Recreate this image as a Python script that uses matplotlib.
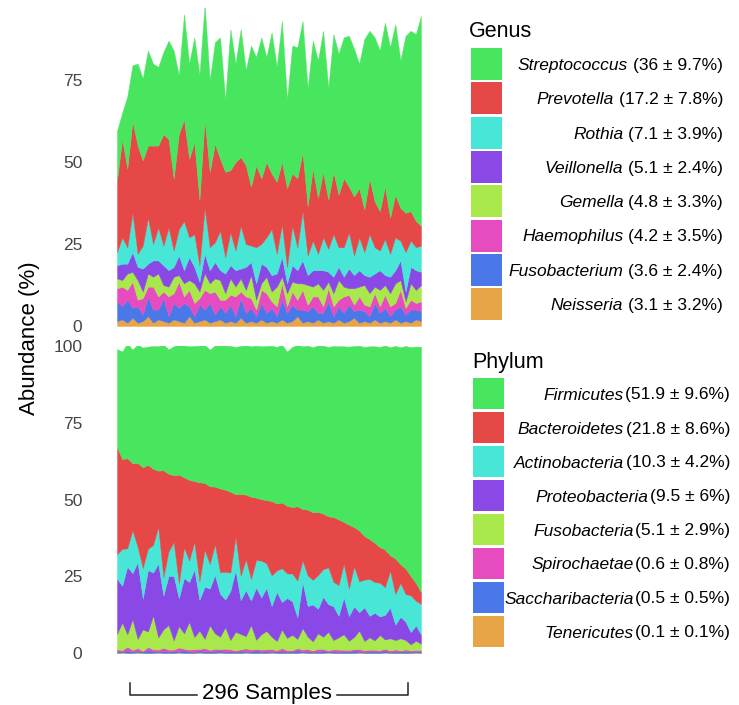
import matplotlib
matplotlib.use("Agg")
import matplotlib.pyplot as plt
from matplotlib.patches import Rectangle
from matplotlib.lines import Line2D
import numpy as np

plt.rcParams['font.family'] = ['Liberation Sans', 'DejaVu Sans']

# ---------------- Genus panel (bottom layer first) ----------------
genus_names = ["Neisseria", "Fusobacterium", "Haemophilus", "Gemella",
               "Veillonella", "Rothia", "Prevotella", "Streptococcus"]
genus_stats = ["(3.1 ± 3.2%)", "(3.6 ± 2.4%)", "(4.2 ± 3.5%)", "(4.8 ± 3.3%)",
               "(5.1 ± 2.4%)", "(7.1 ± 3.9%)", "(17.2 ± 7.8%)", "(36 ± 9.7%)"]

neisseria = [1.5,2,1,2.5,1,1.5,3,1,2,1.5, 1,2,1.5,1,3,1,1.5,2,1,1.5,
             2,1,1.5,1,2.5,1,1.5,1,2,1, 1.5,1,2,1,1.5,3,1,1.5,1,2,
             1,1.5,1,2,1,1.5,2.5,1,1.5,1, 2,1,1.5,1,2,1,1.5,1,2,1.5]
fusobacterium = [6,4,7,3,5,2,6,4,3,7, 2,5,4,6,3,2,5,3,6,2,
                 4,3,5,2,6,3,4,2,5,3, 4,2,6,3,5,2,4,3,5,2,
                 3,6,2,4,3,5,2,4,3,2, 5,3,4,2,3,5,2,4,3,3]
haemophilus = [4,6,3,8,2,5,3,7,4,2, 6,3,8,2,5,4,2,6,3,7,
               2,4,3,6,2,5,3,2,4,6, 2,3,5,2,4,3,6,2,3,5,
               2,4,3,2,5,3,2,4,2,3, 3,2,4,3,2,5,2,3,2,3]
gemella = [3,2,5,3,6,2,4,3,7,2, 3,5,2,4,3,6,2,5,3,4,
           6,2,5,3,4,2,7,3,2,5, 3,6,2,4,3,5,2,6,3,4,
           5,2,4,6,3,2,5,3,6,4, 2,5,3,4,6,3,2,5,4,5]
veillonella = [4,5,3,6,4,7,3,5,4,6, 5,3,6,4,7,5,3,6,4,5,
               3,6,4,5,3,7,4,5,6,3, 5,4,6,3,5,4,7,3,5,4,
               6,3,5,4,3,6,4,5,3,5, 4,6,3,5,4,6,3,5,6,4]
rothia = [4,8,5,12,4,7,14,5,10,6, 13,5,8,15,6,10,5,14,7,6,
          12,5,10,6,13,7,5,11,6,9, 14,6,10,5,12,7,15,6,9,5,
          10,7,13,6,9,11,6,10,7,13, 8,6,11,7,10,6,12,8,7,8]
prevotella = [22,30,24,28,33,26,22,30,25,34, 27,22,29,31,24,28,20,27,23,30,
              22,26,19,27,21,24,18,25,20,23, 17,22,19,24,16,21,18,15,22,17,
              20,15,19,16,21,14,18,15,13,17, 14,12,16,11,13,10,12,9,8,6]
streptococcus = [15,8,22,17,25,25,29,25,24,25, 30,39,18,32,29,32,38,35,28,31,
                 37,22,43,30,39,29,43,33,43,32, 43,35,43,27,39,40,40,36,39,42,
                 43,34,42,43,43,46,45,38,52,45, 50,49,50,52,52,45,54,55,57,64]

# ---------------- Phylum panel (bottom layer first) ----------------
phylum_names = ["Tenericutes", "Saccharibacteria", "Spirochaetae", "Fusobacteria",
                "Proteobacteria", "Actinobacteria", "Bacteroidetes", "Firmicutes"]
phylum_stats = ["(0.1 ± 0.1%)", "(0.5 ± 0.5%)", "(0.6 ± 0.8%)", "(5.1 ± 2.9%)",
                "(9.5 ± 6%)", "(10.3 ± 4.2%)", "(21.8 ± 8.6%)", "(51.9 ± 9.6%)"]

tenericutes = [0.1,0.2,0.1,0.1,0.2,0.1,0.1,0.1,0.2,0.1, 0.1,0.1,0.2,0.1,0.1,0.1,0.2,0.1,0.1,0.1,
               0.2,0.1,0.1,0.1,0.1,0.2,0.1,0.1,0.1,0.1, 0.2,0.1,0.1,0.1,0.1,0.1,0.2,0.1,0.1,0.1,
               0.1,0.2,0.1,0.1,0.1,0.1,0.1,0.2,0.1,0.1, 0.1,0.1,0.2,0.1,0.1,0.1,0.1,0.1,0.2,0.1]
saccharibacteria = [0.5,0.3,0.8,0.4,0.6,0.3,0.9,0.5,0.4,0.7, 0.3,0.6,0.5,0.8,0.4,0.3,0.7,0.5,0.4,0.6,
                    0.8,0.4,0.5,0.3,0.7,0.5,0.4,0.9,0.3,0.6, 0.5,0.4,0.7,0.3,0.5,0.8,0.4,0.6,0.3,0.5,
                    0.7,0.4,0.5,0.3,0.6,0.4,0.8,0.5,0.3,0.6, 0.4,0.5,0.7,0.3,0.5,0.4,0.6,0.3,0.5,0.4]
spirochaetae = [0.6,0.4,1.2,0.5,0.8,0.3,1.0,0.6,0.5,0.9, 0.7,0.4,1.1,0.5,0.6,0.8,0.4,1.0,0.5,0.7,
                0.3,0.9,0.6,0.5,0.4,0.8,0.6,0.3,0.7,0.5, 0.6,0.4,0.8,0.5,0.3,0.7,0.5,0.6,0.4,0.8,
                0.5,0.3,0.6,0.7,0.4,0.5,0.3,0.6,0.5,0.4, 0.6,0.3,0.5,0.4,0.6,0.3,0.5,0.4,0.3,0.5]
fusobacteria = [5,9,4,10,3,7,5,11,4,6, 8,3,7,5,9,4,6,3,8,5,
                4,7,3,6,5,4,8,3,5,6, 4,3,6,4,5,3,7,4,3,5,
                4,6,3,4,5,3,4,6,3,4, 3,5,3,4,3,4,3,2,3,2]
proteobacteria = [18,12,22,15,25,10,20,14,24,11, 16,21,9,18,13,22,10,17,12,19,
                  14,9,16,20,11,15,8,17,12,14, 10,16,9,13,11,7,15,10,12,8,
                  13,9,11,7,12,8,10,6,11,7, 9,6,8,10,5,7,6,4,5,3]
actinobacteria = [8,12,6,14,5,10,7,9,12,6, 8,11,5,10,7,9,6,12,8,10,
                  7,9,6,11,8,10,7,9,12,8, 10,7,11,8,9,12,7,10,8,11,
                  9,12,8,10,11,9,13,10,9,12, 10,11,9,12,10,11,9,12,8,10]
bacteroidetes = [34.8,29.3,29.3,21.8,27.3,32.8,27.3,24.8,18.3,34.8,
                 25.3,21.8,35.3,22.8,26.3,19.8,32.3,21.8,25.3,18.8,
                 27.3,26.8,26.3,13.8,26.6,21.1,26.8,20.3,20.0,20.6,
                 24.2,21.8,21.4,22.0,21.6,24.2,16.8,21.4,22.0,20.6,
                 18.1,16.6,21.1,21.4,13.6,20.8,12.8,16.6,14.2,13.0,
                 12.8,11.6,12.3,5.0,11.6,6.1,8.3,6.3,5.8,3.8]
firmicutes = [32,35,37.5,37,38.5,39,38.5,40,40.5,41,
              40.5,42,42.5,43,43.5,44,44.5,45,44.5,46,
              46.5,47,47.5,48,48.2,48.7,49,49.5,49.8,50.2,
              50.6,51,51.4,50.3,52.2,52.6,53,53.4,53.8,54.2,
              54.7,55.2,55.7,56.4,57.2,58,59,60.2,61.6,62.8,
              64,65.2,66.5,67.8,69.2,70.7,72.5,74.5,77,80]

colors = ["#E8A548", "#4A78E8", "#E64BC0", "#A8E84A",
          "#8A48E6", "#48E6D6", "#E64848", "#48E65E"]

y_ticks_top = [0, 25, 50, 75]
y_ticks_bot = [0, 25, 50, 75, 100]
sample_label = "296 Samples"

W, H = 739, 705
fig = plt.figure(figsize=(W / 100, H / 100), dpi=100)


def fx(px):
    return px / W


def fy(py):
    return 1 - py / H


def make_axes(top_px, bot_px, ymax):
    ax = fig.add_axes([fx(117), fy(bot_px), fx(421) - fx(117), fy(top_px) - fy(bot_px)])
    ax.set_ylim(0, ymax)
    for s in ax.spines.values():
        s.set_visible(False)
    ax.tick_params(axis='both', length=0, labelsize=12.5, labelcolor="#444444", pad=25)
    ax.set_xticks([])
    return ax


def draw_stack(ax, x, series):
    polys = ax.stackplot(x, *series, colors=colors, linewidth=0.3)
    for p, c in zip(polys, colors):
        p.set_edgecolor(c)
    ax.set_xlim(x[0], x[-1])


# top panel: 0 at y=326 px, 75 at y=80 px -> 3.28 px/unit
ymax_top = 97
ax1 = make_axes(326 - ymax_top * 3.28, 326, ymax_top)
genus_series = [neisseria, fusobacterium, haemophilus, gemella,
                veillonella, rothia, prevotella, streptococcus]
draw_stack(ax1, np.arange(len(neisseria)), genus_series)
ax1.set_yticks(y_ticks_top)

ax2 = make_axes(346, 653, 100)
phylum_series = [tenericutes, saccharibacteria, spirochaetae, fusobacteria,
                 proteobacteria, actinobacteria, bacteroidetes, firmicutes]
draw_stack(ax2, np.arange(len(tenericutes)), phylum_series)
ax2.set_yticks(y_ticks_bot)

# y label
fig.text(fx(30), fy(338), "Abundance (%)", rotation=90, ha="center", va="center",
         fontsize=16, color="black")

# bracket + samples label
lc = "#222222"
fig.add_artist(Line2D([fx(130), fx(130), fx(197)], [fy(683), fy(695), fy(695)],
                      color=lc, lw=1.1))
fig.add_artist(Line2D([fx(337), fx(408), fx(408)], [fy(695), fy(695), fy(683)],
                      color=lc, lw=1.1))
fig.text(fx(267), fy(694), sample_label, ha="center", va="center", fontsize=16)

renderer = fig.canvas.get_renderer()


def legend(title, title_x, title_base, names, stats, sq_x, sq_top, pitch, sq_h, right_x, gap):
    fig.text(fx(title_x), fy(title_base), title, ha="left", va="baseline", fontsize=15.5)
    n = len(names)
    for k in range(n):
        i = n - 1 - k  # legend listed from top layer to bottom layer
        top = sq_top + k * pitch
        fig.add_artist(Rectangle((fx(sq_x), fy(top + sq_h)), fx(sq_x + 31) - fx(sq_x),
                                 fy(top) - fy(top + sq_h), transform=fig.transFigure,
                                 facecolor=colors[i], edgecolor="none"))
        yc = top + sq_h / 2
        t = fig.text(fx(right_x), fy(yc), stats[i], ha="right", va="center_baseline",
                     fontsize=12.5)
        bb = t.get_window_extent(renderer=renderer)
        fig.text(bb.x0 / fig.dpi / fig.get_figwidth() - fx(gap), fy(yc), names[i],
                 ha="right", va="center_baseline", fontsize=12.5, style="italic")


legend("Genus", 469, 37, genus_names, genus_stats, 471, 48, 34.3, 32, 723, 5)
legend("Phylum", 472, 368, phylum_names, phylum_stats, 473, 378, 34.0, 31, 730, 1.5)

fig.savefig("out.png", dpi=100)
